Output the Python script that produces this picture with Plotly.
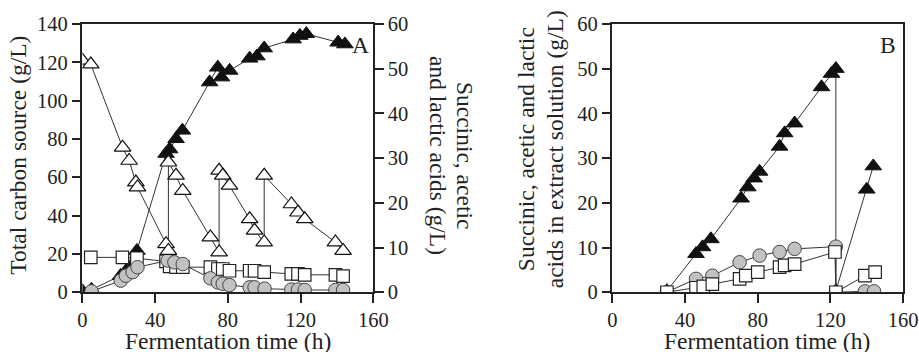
import plotly.graph_objects as go

# ---------------- Panel A data ----------------
a_carbon_t = [0, 4.6, 22.1, 25.7, 29.4, 30.3, 46, 47.3, 47.3, 51.5, 55.2, 70.4, 75.2, 75.2,
              77.2, 80.9, 92, 94.7, 100, 100, 115, 118.6, 122.3, 139.2, 143.4]
a_carbon_v = [121, 119, 75.6, 68.7, 57.4, 54.8, 25.2, 21.7, 67.8, 60.9, 53, 28.7, 20.9, 63.5,
              60.9, 55.7, 38.2, 32.2, 26.1, 60.9, 46, 41.7, 38.2, 26.1, 21.7]

a_succ_t = [0, 5, 21, 24, 27, 30, 46, 48, 51.5, 55, 70, 74.5, 76.5, 81, 92, 96, 100,
            115.9, 119.6, 123.2, 140.7, 144.4]
a_succ_v = [0.3, 0.6, 3.7, 4.8, 6.0, 9.3, 31.0, 32.0, 34.3, 36.2, 47.0, 50.3, 48.1, 49.6,
            52.3, 52.8, 54.6, 56.6, 57.4, 57.8, 55.9, 55.5]

a_acet_t = [4.6, 22, 30, 46, 48, 51.5, 55.2, 70.4, 74.5, 77.2, 80.9, 92, 94.7, 100,
            114.9, 118.6, 122.3, 139.2, 143.4]
a_acet_v = [7.8, 7.8, 7.6, 6.9, 5.8, 5.6, 5.6, 5.6, 5.2, 5.2, 4.8, 4.8, 4.8, 4.5,
            4.1, 4.1, 3.9, 3.9, 3.6]

a_lact_t = [5, 21.1, 23.9, 27.6, 30.3, 46.9, 50.6, 55.2, 70.4, 74.5, 77.2, 80.9, 92, 94.7,
            100.2, 114.9, 118.6, 122.3, 139.2, 143.4]
a_lact_v = [0.2, 2.6, 3.7, 4.5, 5.6, 7.1, 6.7, 6.3, 3.1, 2.2, 1.9, 1.6, 1.1, 1.1,
            0.8, 0.6, 0.6, 0.5, 0.5, 0.5]

# ---------------- Panel B data ----------------
b_succ_t = [30, 46, 49.6, 54.2, 70.8, 74.5, 78, 81, 92, 94.8, 100.3, 115.1, 120.6, 123, 123,
            140, 143.6]
b_succ_v = [0.3, 8.6, 10.1, 11.9, 21.0, 23.5, 25.5, 27.0, 32.6, 35.6, 37.8, 45.9, 48.9, 50.0, 0.3,
            23.0, 28.2]

b_lact_t = [30, 46, 55, 70, 81, 92, 100.3, 123, 123, 139, 144]
b_lact_v = [0.0, 3.0, 3.7, 6.7, 8.2, 9.0, 9.7, 10.2, 0.0, 0.2, 0.2]

b_acet_t = [30, 46, 50, 55, 70, 73.4, 80, 92, 94.8, 100.3, 122.5, 123, 139, 144.6]
b_acet_v = [0.0, 1.0, 1.3, 1.8, 3.0, 3.7, 4.5, 5.6, 6.0, 6.3, 9.0, 0.0, 3.7, 4.5]

x_ticks = [0, 40, 80, 120, 160]
carbon_ticks = [0, 20, 40, 60, 80, 100, 120, 140]
acid_ticks = [0, 10, 20, 30, 40, 50, 60]

FONT = "Liberation Serif"
INK = "#222222"
LINE = dict(color="#333333", width=1)

# Layout is planned in target-picture pixels and mapped to page pixels
# (page has an 8px body margin; the captured picture is slightly scaled).
SX, SY, M = 919 / 942, 352 / 372, 8
W, H = 926, 366
def px(x):
    return (x / SX - M) / W
def py(y):
    return 1 - (y / SY - M) / H

fig = go.Figure()

def tri_filled(x, y, xa, ya):
    return go.Scatter(x=x, y=y, xaxis=xa, yaxis=ya, mode="lines+markers", line=LINE,
                      marker=dict(symbol="triangle-up", size=14.5, color="#111111",
                                  line=dict(color="#111111", width=1)),
                      showlegend=False)

def tri_open(x, y, xa, ya):
    return go.Scatter(x=x, y=y, xaxis=xa, yaxis=ya, mode="lines+markers", line=LINE,
                      marker=dict(symbol="triangle-up", size=14.5, color="white",
                                  line=dict(color="#111111", width=1.2)),
                      showlegend=False)

def square(x, y, xa, ya):
    return go.Scatter(x=x, y=y, xaxis=xa, yaxis=ya, mode="lines+markers", line=LINE,
                      marker=dict(symbol="square", size=12.5, color="white",
                                  line=dict(color="#222222", width=1.2)),
                      showlegend=False)

def circle(x, y, xa, ya):
    return go.Scatter(x=x, y=y, xaxis=xa, yaxis=ya, mode="lines+markers", line=LINE,
                      marker=dict(symbol="circle", size=13.5, color="#c2c2c2",
                                  line=dict(color="#444444", width=1)),
                      showlegend=False)

# Panel A: acids on y (right), carbon on y2 (left, overlaying)
fig.add_trace(tri_filled(a_succ_t, a_succ_v, "x", "y"))
fig.add_trace(square(a_acet_t, a_acet_v, "x", "y"))
fig.add_trace(circle(a_lact_t, a_lact_v, "x", "y"))
fig.add_trace(tri_open(a_carbon_t, a_carbon_v, "x", "y2"))

# Panel B
fig.add_trace(tri_filled(b_succ_t, b_succ_v, "x2", "y3"))
fig.add_trace(circle(b_lact_t, b_lact_v, "x2", "y3"))
fig.add_trace(square(b_acet_t, b_acet_v, "x2", "y3"))

ydom = [py(290.7), py(20.7)]
tickfont = dict(family=FONT, size=20.5, color=INK)
axis_common = dict(showgrid=False, zeroline=False, showline=True, linewidth=2, linecolor=INK,
                   ticks="outside", ticklen=8.5, tickwidth=1.5, tickcolor=INK, tickfont=tickfont)

fig.update_layout(
    width=W, height=H, margin=dict(l=0, r=0, t=0, b=0),
    paper_bgcolor="white", plot_bgcolor="white",
    xaxis=dict(domain=[px(85), px(375)], range=[0, 160], tickvals=x_ticks, anchor="y",
               mirror=True, **axis_common),
    yaxis=dict(domain=ydom, range=[0, 60], tickvals=acid_ticks, side="right", anchor="x",
               **axis_common),
    yaxis2=dict(range=[0, 140], tickvals=carbon_ticks, side="left", anchor="x",
                overlaying="y", **axis_common),
    xaxis2=dict(domain=[px(613.5), px(903.3)], range=[0, 160], tickvals=x_ticks, anchor="y3",
                mirror=True, **axis_common),
    yaxis3=dict(domain=ydom, range=[0, 60], tickvals=acid_ticks, side="left", anchor="x2",
                mirror=True, **axis_common),
)

title_font = dict(family=FONT, size=23.5, color=INK)
ann = [
    dict(text="Fermentation time (h)", x=px(230), y=py(340)),
    dict(text="Fermentation time (h)", x=px(768), y=py(340)),
    dict(text="Total carbon source (g/L)", x=px(21), y=py(153), textangle=-90),
    dict(text="Succinic, acetic", x=px(466), y=py(153), textangle=90),
    dict(text="and lactic acids (g/L)", x=px(439), y=py(153), textangle=90),
    dict(text="Succinic, acetic and lactic", x=px(528), y=py(147), textangle=-90),
    dict(text="acids in extract solution (g/L)", x=px(557), y=py(147), textangle=-90),
    dict(text="A", x=px(362), y=py(42)),
    dict(text="B", x=px(888), y=py(42)),
]
for a in ann:
    fig.add_annotation(xref="paper", yref="paper", showarrow=False, font=title_font,
                       xanchor="center", yanchor="middle", **a)

fig.write_html("out.html")
